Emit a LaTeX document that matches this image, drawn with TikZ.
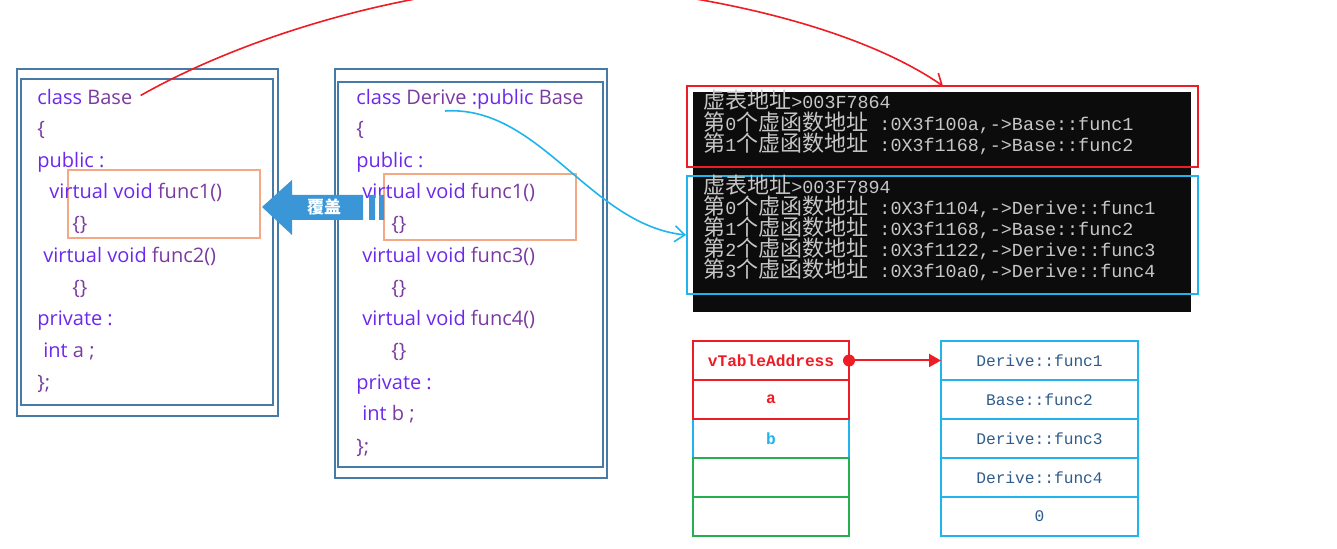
\documentclass[tikz,border=0pt]{standalone}
\usepackage{fontspec}
\setmainfont{Open Sans}
\setmonofont{Liberation Mono}
\newfontfamily\cjk{Noto Sans CJK SC}
\usetikzlibrary{arrows.meta,positioning,fit}
\definecolor{frame}{RGB}{72,122,168}
\definecolor{kw}{RGB}{108,40,236}
\definecolor{ident}{RGB}{122,58,160}
\definecolor{peach}{RGB}{244,168,134}
\definecolor{coverblue}{RGB}{58,150,214}
\definecolor{console}{RGB}{12,12,12}
\definecolor{consoletext}{RGB}{198,198,198}
\definecolor{vred}{RGB}{238,28,36}
\definecolor{vcyan}{RGB}{32,180,236}
\definecolor{vgreen}{RGB}{36,176,80}
\definecolor{slotblue}{RGB}{48,92,140}
\newcommand\kw[1]{\textcolor{kw}{#1}}
\newcommand\zh[1]{{\fontsize{11}{10}\cjk #1}}
\tikzset{
  every picture/.style={x=0.5pt, y=-0.5pt},
  code/.style={anchor=base west, inner sep=0pt, text=ident, font=\fontsize{10}{11}\selectfont},
  cons/.style={anchor=base west, inner sep=0pt, text=consoletext, font=\fontsize{9.2}{10}\ttfamily},
  frameline/.style={draw=frame, line width=1pt},
  hit/.style={draw=peach, line width=0.8pt},
  tabbox/.style={inner sep=0pt, line width=1pt},
  cell/.style={minimum width=78pt, minimum height=19.5pt, inner sep=0pt, outer sep=0pt, line width=0.9pt},
  slot/.style={cell, minimum width=98.5pt, draw=vcyan, text=slotblue, font=\fontsize{8.1}{9}\ttfamily},
  field/.style={cell, font=\fontsize{8.1}{9}\ttfamily\bfseries},
  link/.style={-{Straight Barb[length=5pt,width=8pt]}, line width=0.8pt},
}
\begin{document}
\begin{tikzpicture}
  \useasboundingbox (0,0) rectangle (1337,549);
  % class Base
  \draw[frameline] (17,69) rectangle (278,416);
  \draw[frameline] (21,79) rectangle (273,405);
  \draw[hit] (68,170) rectangle (260,238);
  \node[code] (b1) at (37,105) {\kw{class} Base};
  \node[code] (b2) at (37,136) {\{};
  \node[code] (b3) at (37,168) {\kw{public :}};
  \node[code] (b4) at (49,199) {\kw{virtual void} func1()};
  \node[code] (b5) at (72,231) {\{\}};
  \node[code] (b6) at (43,263) {\kw{virtual void} func2()};
  \node[code] (b7) at (72,295) {\{\}};
  \node[code] (b8) at (37,326) {\kw{private :}};
  \node[code] (b9) at (43,358) {\kw{int} a ;};
  \node[code] (b10) at (37,390) {\};};
  % class Derive
  \draw[frameline] (335,69) rectangle (607,478);
  \draw[frameline] (338,82) rectangle (603,467);
  \draw[hit] (384,174) rectangle (576,240);
  \node[code] (d1) at (356,105) {\kw{class} Derive \kw{:public} Base};
  \node[code] (d2) at (356,136) {\{};
  \node[code] (d3) at (356,168) {\kw{public :}};
  \node[code] (d4) at (362,199) {\kw{virtual void} func1()};
  \node[code] (d5) at (391,231) {\{\}};
  \node[code] (d6) at (362,263) {\kw{virtual void} func3()};
  \node[code] (d7) at (391,295) {\{\}};
  \node[code] (d8) at (362,326) {\kw{virtual void} func4()};
  \node[code] (d9) at (391,358) {\{\}};
  \node[code] (d10) at (356,390) {\kw{private :}};
  \node[code] (d11) at (362,421) {\kw{int} b ;};
  \node[code] (d12) at (356,453) {\};};
  % override arrow
  \fill[coverblue] (262,207) -- (292,180) -- (292,195) -- (363,195) -- (363,220)
    -- (292,220) -- (292,235) -- cycle;
  \fill[coverblue] (369,195) rectangle (375,220) (379,195) rectangle (384,220);
  \node[text=white, font=\fontsize{8.5}{9}\cjk\bfseries] (cover) at (324,207) {覆盖};
  % console output
  \fill[console] (693,92) rectangle (1191,312);
  \node[fit={(687,86) (1198,167)}, tabbox, draw=vred] (oldtab) {};
  \node[fit={(687,176) (1198,294)}, tabbox, draw=vcyan] (newtab) {};
  \node[cons] (c1) at (703,109) {\zh{虚表地址}>003F7864};
  \node[cons] (c2) at (703,131) {\zh{第}0\zh{个虚函数地址} :0X3f100a,->Base::func1};
  \node[cons] (c3) at (703,152) {\zh{第}1\zh{个虚函数地址} :0X3f1168,->Base::func2};
  \node[cons] (c4) at (703,194) {\zh{虚表地址}>003F7894};
  \node[cons] (c5) at (703,215) {\zh{第}0\zh{个虚函数地址} :0X3f1104,->Derive::func1};
  \node[cons] (c6) at (703,236) {\zh{第}1\zh{个虚函数地址} :0X3f1168,->Base::func2};
  \node[cons] (c7) at (703,257) {\zh{第}2\zh{个虚函数地址} :0X3f1122,->Derive::func3};
  \node[cons] (c8) at (703,278) {\zh{第}3\zh{个虚函数地址} :0X3f10a0,->Derive::func4};
  % object layout
  \node[field, anchor=north west] (fvt) at (693,341) {};
  \node[field, below=0pt of fvt] (fa) {};
  \node[field, below=0pt of fa, draw=vcyan, text=vcyan] (fb) {b};
  \node[field, below=0pt of fb, draw=vgreen] (fg1) {};
  \node[field, below=0pt of fg1, draw=vgreen] (fg2) {};
  \draw[vred, line width=0.9pt] (fvt.north west) rectangle (fa.south east);
  \draw[vred, line width=0.9pt] (fvt.south west) -- (fvt.south east);
  \node[field, text=vred] at (fvt) {vTableAddress};
  \node[field, text=vred] at (fa) {a};
  % vtable
  \node[slot, anchor=north west] (s1) at (941,341) {Derive::func1};
  \node[slot, below=0pt of s1] (s2) {Base::func2};
  \node[slot, below=0pt of s2] (s3) {Derive::func3};
  \node[slot, below=0pt of s3] (s4) {Derive::func4};
  \node[slot, below=0pt of s4] (s5) {0};
  \fill[vred] (fvt.east) circle[radius=3pt];
  \draw[vred, line width=1pt, -{Triangle[length=6pt,width=6.5pt]}] (fvt.east) -- (s1.west);
  % pointers to the tables
  \coordinate (basetip) at (943,86);
  \coordinate (derivefrom) at (445,111);
  \draw[link, vred] (b1.east) ++(8,-2) .. controls (260,28) and (430,-15) .. (550,-15)
    .. controls (650,-15) and (840,15) .. (basetip);
  \draw[link, vcyan] (derivefrom) .. controls (540,105) and (590,225) .. (newtab.west);
\end{tikzpicture}
\end{document}
